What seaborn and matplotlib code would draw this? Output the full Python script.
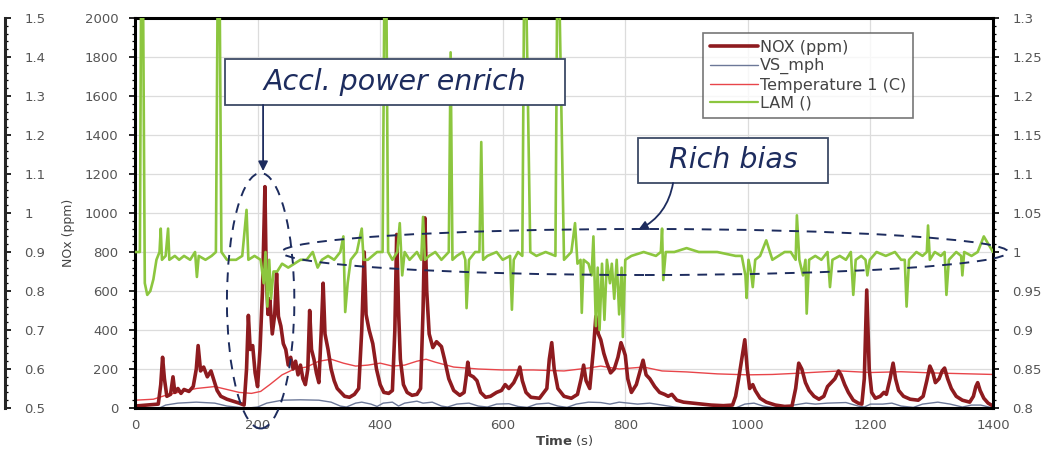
import matplotlib
matplotlib.use("Agg")
import matplotlib.pyplot as plt
from matplotlib.patches import Ellipse, Rectangle
from matplotlib.ticker import MultipleLocator, AutoMinorLocator, FuncFormatter
from matplotlib.lines import Line2D
import pandas as pd
import seaborn as sns

# ---------------------------------------------------------------- data
# NOx concentration over the drive cycle (s, ppm)
nox_time = [0, 20, 38, 42, 45, 48, 52, 58, 62, 65, 70, 75, 80, 88, 95, 100, 103, 107, 112, 118,
            124, 128, 134, 140, 150, 160, 170, 178, 182, 185, 188, 192, 196, 200, 204, 208, 212, 214,
            217, 220, 224, 228, 231, 234, 238, 242, 246, 250, 254, 258, 262, 266, 270, 274, 278, 282,
            285, 288, 292, 296, 300, 304, 307, 310, 315, 320, 325, 330, 336, 342, 350, 358, 365, 370,
            374, 377, 382, 388, 394, 400, 406, 414, 420, 424, 427, 430, 433, 438, 444, 452, 460, 466,
            470, 473, 476, 480, 486, 492, 500, 505, 512, 520, 530, 537, 540, 543, 546, 552, 558, 564,
            572, 580, 590, 598, 604, 610, 618, 624, 628, 632, 638, 646, 660, 672, 676, 680, 684, 690,
            700, 712, 722, 728, 732, 736, 742, 748, 752, 756, 760, 765, 770, 776, 782, 788, 793, 797,
            800, 804, 810, 818, 825, 829, 834, 840, 848, 856, 864, 870, 876, 884, 895, 910, 925, 940,
            960, 975, 980, 985, 990, 995, 999, 1003, 1008, 1012, 1020, 1030, 1045, 1060, 1072, 1078,
            1083, 1088, 1094, 1100, 1108, 1116, 1124, 1130, 1136, 1142, 1148, 1152, 1158, 1164, 1172,
            1180, 1186, 1190, 1194, 1198, 1202, 1208, 1216, 1222, 1226, 1232, 1237, 1241, 1246, 1254,
            1265, 1278, 1286, 1292, 1297, 1302, 1306, 1312, 1317, 1321, 1326, 1332, 1340, 1350, 1362,
            1368, 1372, 1375, 1379, 1385, 1392, 1400]
nox_ppm = [10, 15, 20, 120, 260, 150, 60, 70, 160, 80, 100, 75, 95, 85, 110, 200, 320, 190, 210, 160,
           190, 150, 90, 60, 45, 35, 25, 15, 200, 475, 300, 320, 180, 110, 300, 600, 1135, 700,
           480, 560, 380, 480, 690, 470, 420, 330, 300, 220, 260, 200, 240, 170, 220, 150, 120, 200,
           500, 300, 250, 180, 130, 400, 640, 380, 300, 200, 140, 100, 80, 60, 55, 70, 100, 400,
           800, 480, 400, 330, 200, 120, 80, 75, 90, 400, 890, 500, 250, 120, 80, 65, 70, 100,
           500, 975, 600, 380, 310, 340, 315, 250, 150, 90, 65, 80, 150, 235, 170, 160, 140, 80,
           55, 60, 80, 90, 120, 100, 130, 170, 210, 140, 80, 55, 50, 100, 250, 335, 200, 100,
           60, 50, 70, 150, 220, 140, 100, 300, 470, 380, 350, 280, 230, 180, 200, 260, 335, 300,
           270, 150, 80, 120, 200, 245, 170, 150, 110, 80, 70, 60, 70, 40, 30, 25, 20, 15,
           12, 15, 60, 150, 250, 350, 200, 100, 120, 90, 50, 30, 15, 8, 10, 100,
           230, 200, 130, 90, 60, 45, 60, 110, 130, 150, 190, 170, 120, 80, 40,
           25, 20, 150, 605, 200, 80, 50, 60, 80, 70, 150, 230, 150, 90, 60,
           45, 40, 60, 140, 215, 180, 130, 150, 190, 205, 150, 100, 60, 40, 30,
           60, 110, 130, 90, 50, 25, 10]

# Vehicle speed (s, mph)
vs_time = [0, 40, 50, 70, 100, 130, 150, 170, 185, 200, 215, 240, 270, 300, 320, 335, 345, 360, 370,
           385, 395, 405, 420, 430, 440, 460, 470, 485, 500, 510, 525, 545, 560, 575, 590, 610, 625,
           640, 655, 675, 690, 705, 720, 740, 760, 775, 790, 805, 820, 840, 860, 880, 900, 980, 995,
           1010, 1025, 1040, 1060, 1075, 1095, 1110, 1130, 1160, 1180, 1190, 1200, 1220, 1235, 1250,
           1270, 1285, 1310, 1330, 1350, 1365, 1380, 1400]
vs_mph = [0, 0, 15, 25, 30, 25, 10, 3, 0, 5, 25, 40, 42, 40, 30, 10, 5, 25, 30,
          20, 8, 25, 30, 10, 25, 35, 25, 30, 10, 5, 20, 25, 10, 5, 20, 22, 8,
          3, 20, 25, 10, 3, 20, 30, 28, 20, 30, 25, 20, 25, 15, 5, 0, 0, 20,
          25, 10, 3, 0, 15, 25, 20, 25, 28, 10, 5, 20, 20, 25, 10,
          3, 20, 30, 20, 5, 15, 15, 0]

# Exhaust temperature (s, deg C)
temp_time = [0, 30, 50, 70, 100, 130, 150, 170, 190, 205, 220, 240, 260, 280, 300, 320, 340, 360, 380,
             400, 420, 440, 460, 475, 490, 520, 560, 600, 650, 700, 740, 760, 790, 830, 860, 900, 950,
             1000, 1040, 1080, 1120, 1150, 1200, 1250, 1300, 1350, 1400]
temp_c = [40, 45, 65, 80, 100, 110, 95, 80, 75, 85, 120, 170, 200, 210, 240, 250, 230, 215, 220,
          230, 215, 220, 240, 250, 235, 210, 200, 195, 195, 190, 205, 215, 200, 210, 190, 185, 175,
          170, 172, 178, 185, 190, 182, 186, 180, 176, 172]

# Lambda (air/fuel equivalence) on the secondary axis
lam_time = [0, 8, 10, 13, 16, 20, 25, 30, 35, 40, 42, 44, 50, 54, 56, 65, 72, 80, 90, 98, 101, 104,
            115, 125, 132, 135, 138, 141, 150, 165, 175, 182, 185, 195, 205, 210, 213, 216, 219, 222,
            226, 232, 240, 250, 260, 270, 280, 290, 298, 305, 315, 325, 335, 340, 343, 347, 352, 362,
            370, 373, 380, 395, 404, 407, 410, 413, 420, 428, 432, 436, 440, 448, 460, 467, 470, 473,
            480, 490, 500, 512, 515, 518, 525, 535, 539, 541, 545, 555, 562, 565, 568, 575, 590, 600,
            612, 615, 618, 625, 632, 635, 638, 645, 655, 670, 686, 689, 692, 700, 712, 718, 722, 727,
            729, 732, 740, 745, 748, 752, 755, 758, 762, 766, 770, 775, 778, 782, 786, 790, 794, 796,
            800, 810, 830, 850, 858, 860, 862, 866, 880, 900, 920, 950, 980, 990, 996, 998, 1001,
            1005, 1008, 1012, 1020, 1030, 1040, 1050, 1060, 1070, 1078, 1080, 1084, 1090, 1094, 1096,
            1100, 1110, 1120, 1130, 1134, 1138, 1150, 1160, 1168, 1172, 1176, 1185, 1192, 1195, 1199,
            1210, 1225, 1240, 1250, 1256, 1259, 1263, 1275, 1285, 1292, 1294, 1297, 1305, 1315, 1321,
            1324, 1328, 1340, 1348, 1350, 1353, 1365, 1375, 1385, 1400]
lam_val = [1.00, 1.00, 1.35, 1.35, 0.96, 0.945, 0.95, 0.965, 0.99, 1.00, 1.03, 0.99, 0.995, 1.03,
           0.99, 0.995, 0.99, 0.995, 0.99, 1.00, 0.968, 0.995,
           0.99, 0.995, 1.00, 1.35, 1.35, 1.00, 0.99, 0.99, 0.995, 1.054, 0.99, 0.995, 0.99, 0.96,
           1.00, 0.93, 0.99, 0.94,
           0.975, 0.975, 0.985, 0.98, 0.985, 0.99, 0.99, 1.00, 0.98, 0.99, 0.995, 0.99, 1.00, 1.02,
           0.923, 0.96, 0.99, 1.00,
           1.03, 0.99, 0.99, 1.00, 1.00, 1.35, 1.35, 1.00, 0.99, 1.00, 1.037, 0.97, 1.00, 0.99, 1.00,
           0.99, 1.045, 0.99,
           0.995, 1.00, 0.99, 1.00, 1.256, 0.99, 0.995, 1.00, 0.99, 0.928, 0.99, 1.00, 1.00, 1.141,
           0.99, 0.995, 1.00, 0.99,
           0.995, 0.926, 0.99, 1.00, 0.995, 1.35, 1.35, 1.00, 0.995, 1.00, 0.995, 1.35, 1.35, 0.99,
           1.00, 1.037, 0.985, 0.99,
           0.922, 0.99, 0.985, 0.97, 1.02, 0.905, 0.98, 0.90, 0.985, 0.913, 0.99, 0.96, 0.985, 0.94,
           0.99, 0.92, 0.98, 0.891,
           0.99, 0.995, 1.00, 0.995, 1.00, 1.03, 0.964, 1.00, 1.00, 1.005, 1.00, 1.00, 0.995, 0.995,
           0.97, 0.941, 0.99,
           0.975, 0.955, 0.99, 0.995, 1.015, 0.99, 0.995, 1.00, 1.00, 0.99, 1.047, 0.99, 0.97, 0.99,
           0.921,
           0.99, 0.995, 0.99, 1.00, 0.955, 0.99, 0.995, 0.99, 1.00, 0.945, 0.99, 0.995, 0.99, 0.97,
           0.99,
           1.00, 0.995, 1.00, 0.99, 0.99, 0.93, 0.99, 1.00, 0.995, 1.00, 1.034, 0.99, 1.00, 0.995,
           1.00,
           0.945, 0.99, 1.00, 0.995, 0.97, 1.00, 0.995, 1.00, 1.02, 1.00]

# axis ranges and ticks
time_ticks = [0, 200, 400, 600, 800, 1000, 1200, 1400]
nox_ticks = [0, 200, 400, 600, 800, 1000, 1200, 1400, 1600, 1800, 2000]
lam_ticks = [0.8, 0.85, 0.9, 0.95, 1.0, 1.05, 1.1, 1.15, 1.2, 1.25, 1.3]
side_ticks = [0.5, 0.6, 0.7, 0.8, 0.9, 1.0, 1.1, 1.2, 1.3, 1.4, 1.5]

# callout geometry (time in s, height in ppm)
accl_box = (147, 1554, 555, 236)          # x, y, width, height
accl_arrow = ((209, 1554), (209, 1215))    # from, to
accl_ellipse = (205, 550, 110, 1310)       # centre x, centre y, width, height
rich_box = (821, 1154, 310, 231)
rich_arrow = ((878, 1154), (821, 913))
rich_ellipse = (832, 800, 1185, 236)

NOX_COLOR = "#8e1b1f"
VS_COLOR = "#6c7898"
TEMP_COLOR = "#e8454a"
LAM_COLOR = "#8cc63f"
NAVY = "#1d2c5e"
LABEL_GREY = "#555555"

sns.set_style("white")
plt.rcParams["font.family"] = ["DejaVu Sans"]

W, H = 1054, 451
fig = plt.figure(figsize=(W / 100, H / 100), dpi=100)
x0, x1, y0, y1 = 135, 993, 18, 408
ax = fig.add_axes([x0 / W, 1 - y1 / H, (x1 - x0) / W, (y1 - y0) / H])

nox_df = pd.DataFrame({"t": nox_time, "v": nox_ppm})
vs_df = pd.DataFrame({"t": vs_time, "v": vs_mph})
temp_df = pd.DataFrame({"t": temp_time, "v": temp_c})
lam_df = pd.DataFrame({"t": lam_time, "v": lam_val})

sns.lineplot(data=temp_df, x="t", y="v", ax=ax, color=TEMP_COLOR, linewidth=1.0,
             estimator=None, sort=False, legend=False)
sns.lineplot(data=vs_df, x="t", y="v", ax=ax, color=VS_COLOR, linewidth=1.0,
             estimator=None, sort=False, legend=False)
sns.lineplot(data=nox_df, x="t", y="v", ax=ax, color=NOX_COLOR, linewidth=2.6,
             estimator=None, sort=False, legend=False)

ax.set_xlim(0, 1400)
ax.set_ylim(0, 2000)
ax.set_xticks(time_ticks)
ax.set_yticks(nox_ticks)
ax.xaxis.set_minor_locator(AutoMinorLocator(4))
ax.yaxis.set_minor_locator(AutoMinorLocator(5))
ax.grid(True, which="major", color="#dcdcdc", linewidth=0.9)
ax.set_axisbelow(True)
for s in ax.spines.values():
    s.set_visible(True)
    s.set_color("black")
    s.set_linewidth(2.2)
ax.tick_params(axis="both", which="major", direction="out", length=4, width=1.2,
               color="black", labelsize=9.5, labelcolor=LABEL_GREY)
ax.tick_params(axis="both", which="minor", direction="out", length=2.5, width=0.9, color="black")
ax.tick_params(axis="y", pad=8)
ax.tick_params(axis="x", pad=4)
ax.set_xlabel(r"$\bf{Time}$ (s)", fontsize=9.5, color="#444444")
ax.xaxis.set_label_coords(0.5, -0.065)
ax.set_ylabel("NOx (ppm)", fontsize=9, color="#444444")
ax.yaxis.set_label_coords(-0.07, 0.45)

ax2 = ax.twinx()
sns.lineplot(data=lam_df, x="t", y="v", ax=ax2, color=LAM_COLOR, linewidth=1.9,
             estimator=None, sort=False, legend=False)
ax2.set_ylim(0.8, 1.3)
ax2.set_yticks(lam_ticks)
ax2.yaxis.set_major_formatter(FuncFormatter(lambda v, p: f"{v:g}"))
ax2.yaxis.set_minor_locator(AutoMinorLocator(5))
ax2.set_ylabel("")
for s in ax2.spines.values():
    s.set_visible(False)
ax2.tick_params(axis="y", which="major", direction="out", length=4, width=1.2, color="black",
                labelsize=9.5, labelcolor=LABEL_GREY, pad=10)
ax2.tick_params(axis="y", which="minor", direction="out", length=2.5, width=0.9, color="black")

# callouts, drawn in the NOx coordinate system
tr = ax.transData
for (bx, by, bw, bh), label in ((accl_box, "Accl. power enrich"), (rich_box, "Rich bias")):
    ax2.add_patch(Rectangle((bx, by), bw, bh, transform=tr, facecolor="white",
                            edgecolor="#3d4a66", linewidth=1.3, clip_on=False, zorder=6))
    ax2.text(bx + bw / 2, by + bh / 2, label, transform=tr, ha="center", va="center",
             fontsize=20.5, style="italic", color=NAVY, zorder=7, clip_on=False)

for (cx, cy, ew, eh) in (accl_ellipse, rich_ellipse):
    ax2.add_patch(Ellipse((cx, cy), ew, eh, transform=tr, fill=False, edgecolor=NAVY,
                          linewidth=1.4, linestyle=(0, (5, 4)), clip_on=False, zorder=5))

ax2.annotate("", xy=accl_arrow[1], xytext=accl_arrow[0], xycoords=tr, textcoords=tr,
             arrowprops=dict(arrowstyle="-|>", color=NAVY, lw=1.3, mutation_scale=14,
                             shrinkA=0, shrinkB=0), zorder=7)
ax2.annotate("", xy=rich_arrow[1], xytext=rich_arrow[0], xycoords=tr, textcoords=tr,
             arrowprops=dict(arrowstyle="-|>", color=NAVY, lw=1.3, mutation_scale=14,
                             shrinkA=0, shrinkB=0, connectionstyle="arc3,rad=-0.25"), zorder=7)

# legend
handles = [Line2D([], [], color=NOX_COLOR, linewidth=2.6),
           Line2D([], [], color=VS_COLOR, linewidth=1.0),
           Line2D([], [], color=TEMP_COLOR, linewidth=1.0),
           Line2D([], [], color=LAM_COLOR, linewidth=1.6)]
labels = ["NOX (ppm)", "VS_mph", "Temperature 1 (C)", "LAM ()"]
leg = ax2.legend(handles, labels, loc="upper left", bbox_to_anchor=(0.662, 0.962),
                 fontsize=11.5, frameon=True, fancybox=False, handlelength=3.0,
                 handletextpad=0.1, labelspacing=0.2, borderpad=0.45, borderaxespad=0)
leg.get_frame().set_edgecolor("#555555")
leg.get_frame().set_linewidth(1.2)
for t in leg.get_texts():
    t.set_color("#444444")
leg.set_zorder(8)

# neighbouring scale on the far left
side = fig.add_axes([-0.2, 1 - y1 / H, 0.2 + 5 / W, (y1 - y0) / H])
side.patch.set_visible(False)
side.set_ylim(0.5, 1.5)
side.set_yticks(side_ticks)
side.yaxis.set_major_formatter(FuncFormatter(lambda v, p: f"{v:g}"))
side.yaxis.set_minor_locator(AutoMinorLocator(5))
side.yaxis.tick_right()
side.set_xticks([])
for name, s in side.spines.items():
    s.set_visible(name == "right")
side.spines["right"].set_linewidth(2.2)
side.tick_params(axis="y", which="major", direction="out", length=4, width=1.2, color="black",
                 labelsize=9.5, labelcolor=LABEL_GREY, pad=10)
side.tick_params(axis="y", which="minor", direction="out", length=2.5, width=0.9, color="black")

fig.savefig("out.png", dpi=100)
